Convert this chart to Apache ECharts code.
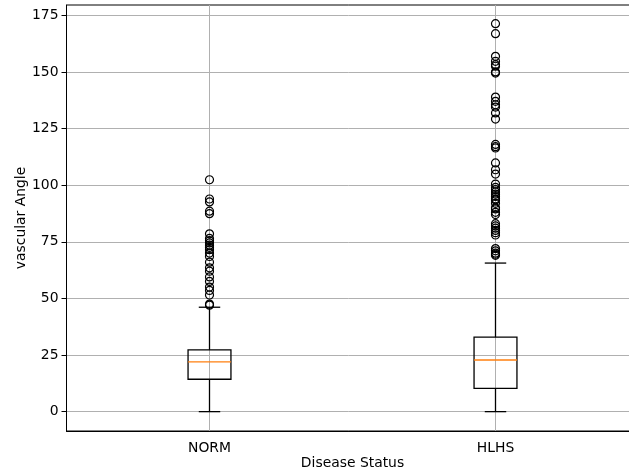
<!DOCTYPE html>
<html>
<head>
<meta charset="utf-8">
<script src="https://cdn.jsdelivr.net/npm/echarts@6/dist/echarts.min.js"></script>
<style>
  html, body { margin: 0; padding: 0; background: #fff; }
  #chart { width: 629px; height: 476px; }
</style>
</head>
<body>
<div id="chart"></div>
<script>
// Groups on the x axis
const categories = ['NORM', 'HLHS'];

// Five-number summaries per group: [lower whisker, Q1, median, Q3, upper whisker]
const normStats = [0, 14.3, 22.0, 27.3, 46.1];
const hlhsStats = [0, 10.3, 22.8, 32.9, 65.6];

// Points beyond the whiskers
const normOutliers = [102.4, 93.9, 92.6, 88.5, 87.4, 78.5, 76.5, 75.5, 74.5, 73.5, 72.5,
  71.5, 70, 68.5, 66, 63.5, 62, 59.5, 57.5, 55, 53.5, 51.5, 47.5, 47];
const hlhsOutliers = [171.3, 166.9, 156.9, 154.7, 153.2, 152.5, 150, 149.5, 138.9, 137,
  135.5, 134.5, 131.9, 129.2, 118, 117, 116.4, 109.8, 106.8, 104.9, 100.5, 99, 98, 97,
  96, 95, 94, 93.5, 92, 90, 89.5, 88, 87, 83, 82, 81, 80, 79, 78, 72, 71, 70, 69.5, 69];

// Y axis tick values and range
const yTicks = [0, 25, 50, 75, 100, 125, 150, 175];
const yMin = -8.55;
const yMax = 179.55;

const FONT = 'DejaVu Sans';
const boxData = [[0].concat(normStats), [1].concat(hlhsStats)];
const outlierData = normOutliers.map(v => [0, v]).concat(hlhsOutliers.map(v => [1, v]));

function renderBox(params, api) {
  const idx = api.value(0);
  const lo = api.coord([idx, api.value(1)]);
  const q1 = api.coord([idx, api.value(2)]);
  const med = api.coord([idx, api.value(3)]);
  const q3 = api.coord([idx, api.value(4)]);
  const hi = api.coord([idx, api.value(5)]);
  const band = api.size([1, 0])[0];
  const x = lo[0];
  const halfBox = band * 0.075;
  const halfCap = band * 0.0375;
  const stroke = { stroke: '#000', lineWidth: 1.3, fill: null };
  return {
    type: 'group',
    children: [
      { type: 'line', shape: { x1: x, y1: lo[1], x2: x, y2: q1[1] }, style: stroke },
      { type: 'line', shape: { x1: x, y1: q3[1], x2: x, y2: hi[1] }, style: stroke },
      { type: 'line', shape: { x1: x - halfCap, y1: lo[1], x2: x + halfCap, y2: lo[1] }, style: stroke },
      { type: 'line', shape: { x1: x - halfCap, y1: hi[1], x2: x + halfCap, y2: hi[1] }, style: stroke },
      { type: 'rect', shape: { x: x - halfBox, y: q3[1], width: 2 * halfBox, height: q1[1] - q3[1] }, style: stroke },
      { type: 'line', shape: { x1: x - halfBox, y1: med[1], x2: x + halfBox, y2: med[1] },
        style: { stroke: '#ff7f0e', lineWidth: 1.3 } }
    ]
  };
}

const chart = echarts.init(document.getElementById('chart'), null, { renderer: 'canvas' });
chart.setOption({
  animation: false,
  backgroundColor: '#fff',
  textStyle: { fontFamily: FONT },
  grid: {
    left: 66.5, width: 572, top: 5, bottom: 45,
    containLabel: false,
    outerBoundsMode: 'none',
    show: true, borderColor: '#000', borderWidth: 1, backgroundColor: 'transparent'
  },
  xAxis: {
    type: 'category',
    data: categories,
    boundaryGap: true,
    name: 'Disease Status',
    nameLocation: 'middle',
    nameGap: 25,
    nameMoveOverlap: false,
    nameTextStyle: { color: '#000', fontSize: 13.9, fontFamily: FONT },
    axisLine: { onZero: false, lineStyle: { color: '#000', width: 1 } },
    axisTick: { alignWithLabel: true, length: 5, lineStyle: { color: '#000' } },
    axisLabel: { color: '#000', fontSize: 13.9, fontFamily: FONT, margin: 10 },
    splitLine: { show: false }
  },
  yAxis: {
    type: 'value',
    min: yMin,
    max: yMax,
    name: 'vascular Angle',
    nameLocation: 'middle',
    nameGap: 38,
    nameMoveOverlap: false,
    nameTextStyle: { color: '#000', fontSize: 13.9, fontFamily: FONT },
    axisLine: { show: true, onZero: false, lineStyle: { color: '#000', width: 1 } },
    axisTick: { show: true, length: 5, lineStyle: { color: '#000' }, customValues: yTicks },
    axisLabel: { color: '#000', fontSize: 13.9, fontFamily: FONT, margin: 8, customValues: yTicks },
    splitLine: { show: true, lineStyle: { color: '#b0b0b0', width: 1 } }
  },
  series: [
    {
      type: 'scatter',
      data: [],
      silent: true,
      z: 1,
      markLine: {
        silent: true,
        z: 1,
        symbol: 'none',
        label: { show: false },
        lineStyle: { color: '#b0b0b0', width: 1, type: 'solid' },
        data: categories.map(c => ({ xAxis: c }))
      }
    },
    {
      type: 'custom',
      renderItem: renderBox,
      data: boxData,
      encode: { x: 0, y: [1, 2, 3, 4, 5] },
      z: 3
    },
    {
      type: 'scatter',
      data: outlierData,
      symbol: 'circle',
      symbolSize: 8,
      itemStyle: { color: 'transparent', borderColor: '#000', borderWidth: 1.2, opacity: 1 },
      z: 4
    }
  ]
});
</script>
</body>
</html>
